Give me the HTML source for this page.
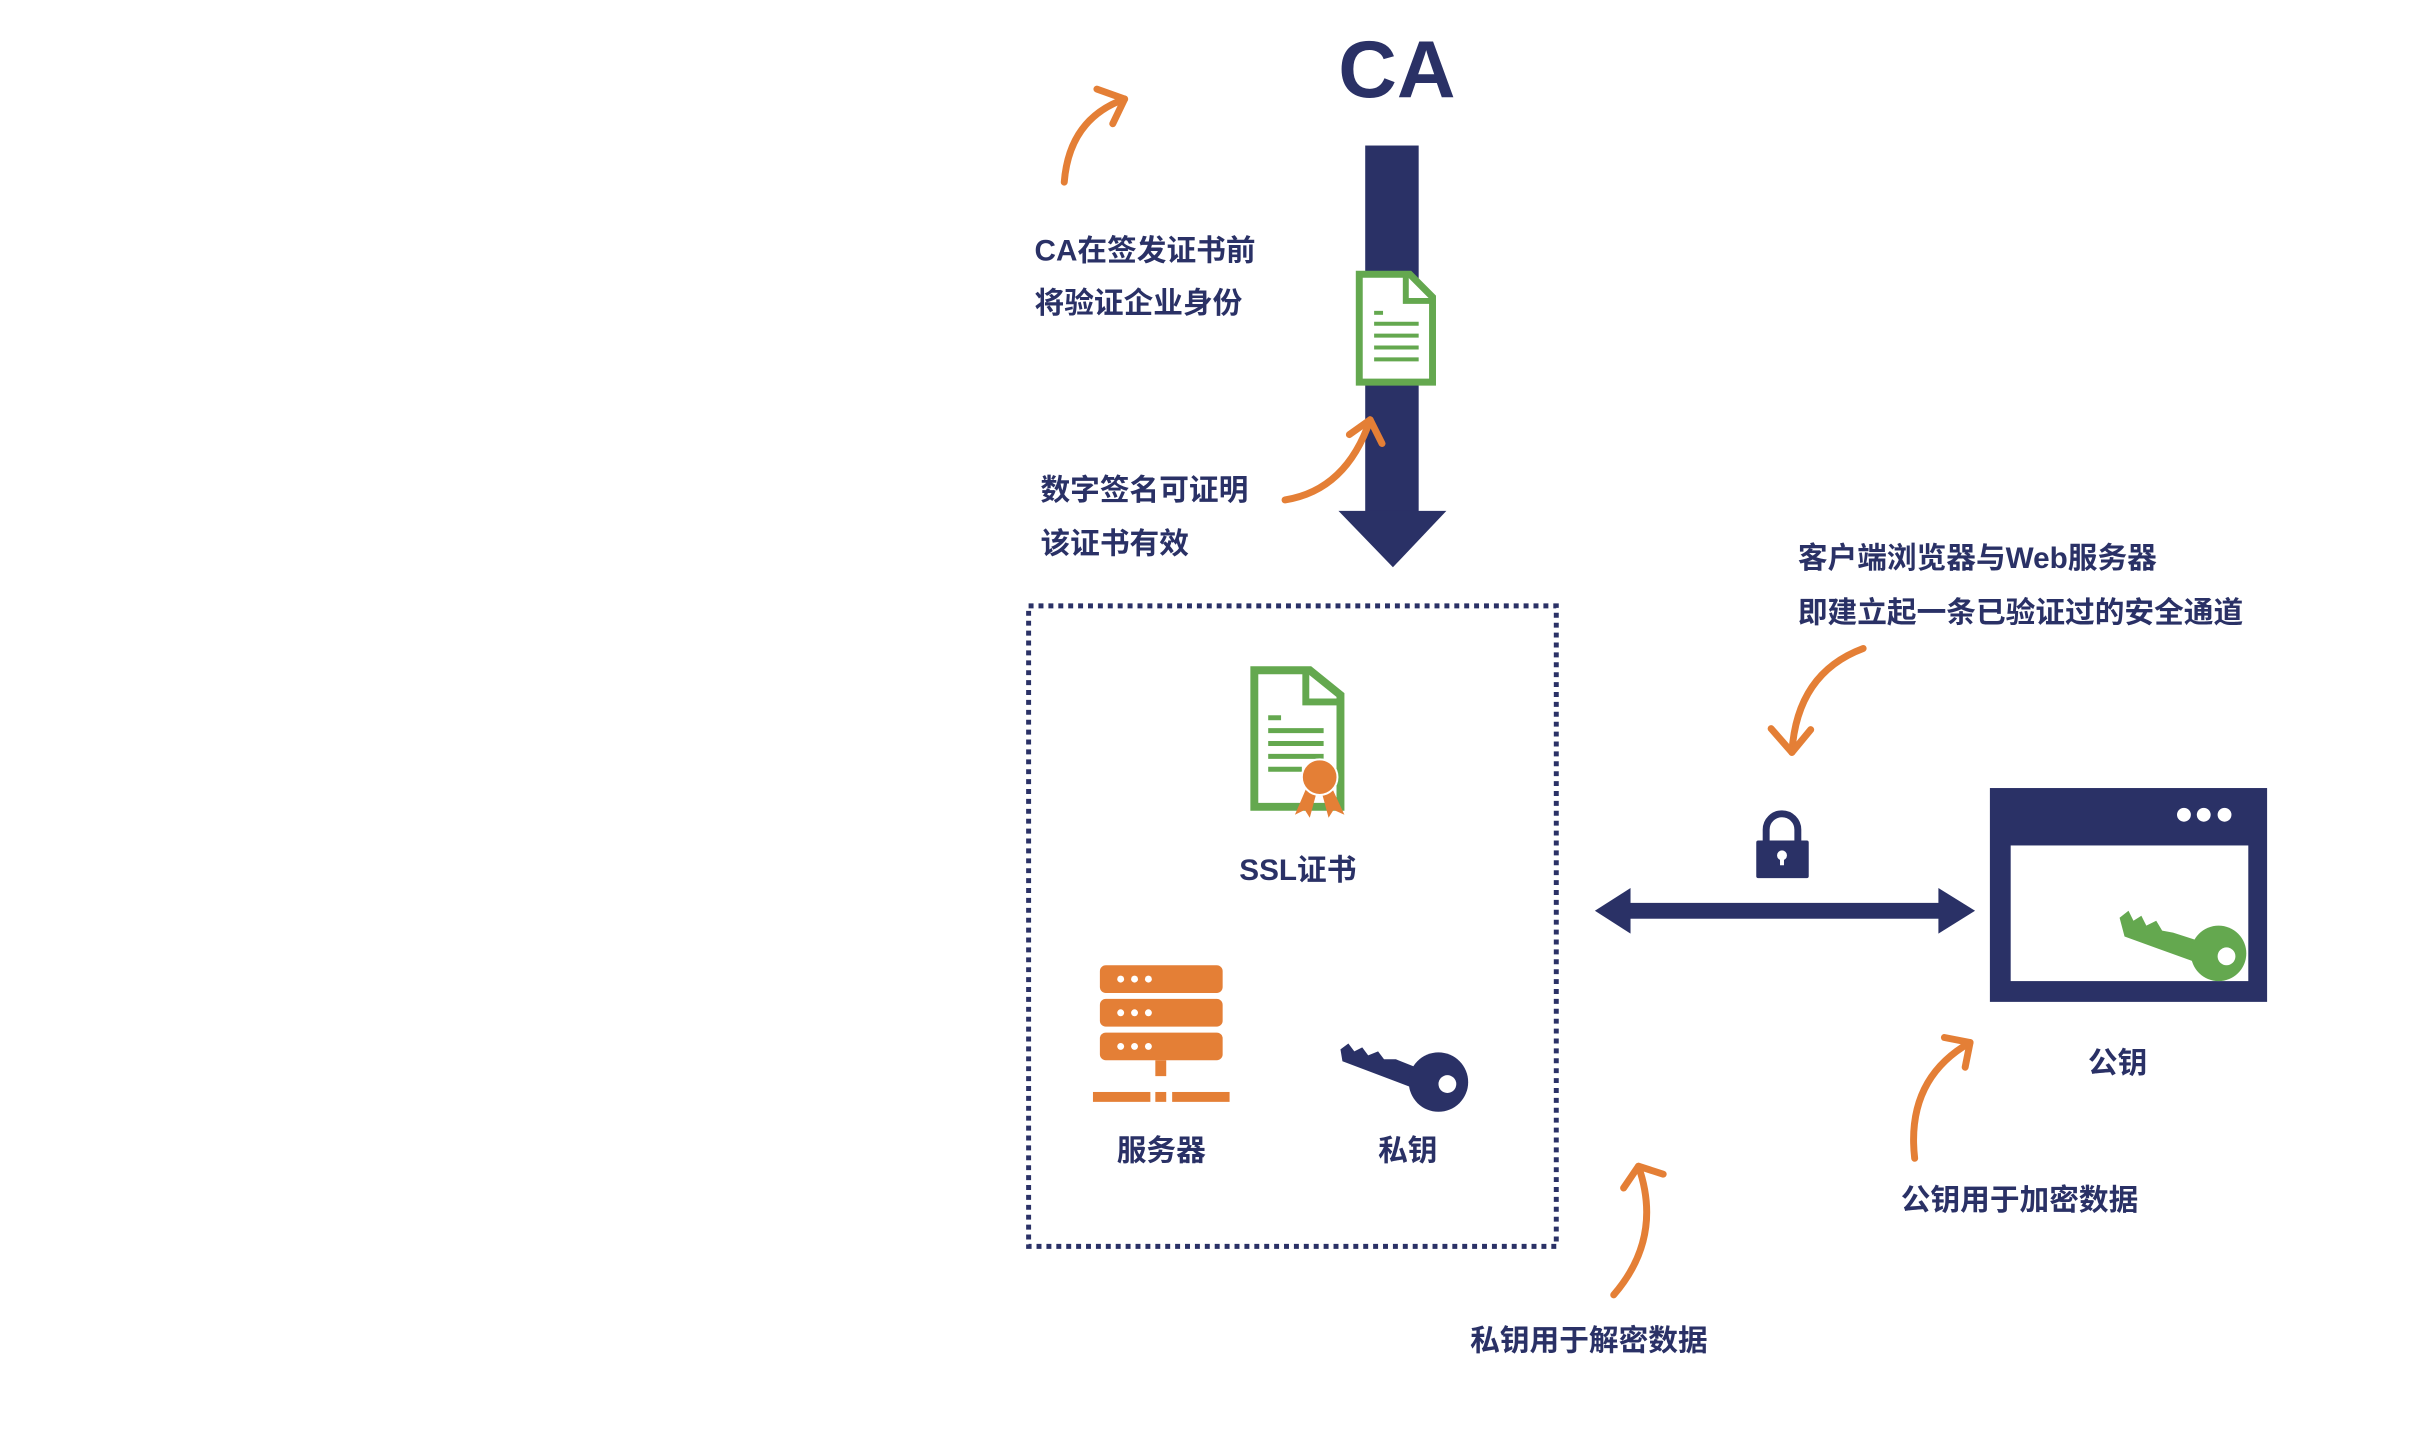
<!DOCTYPE html>
<html><head><meta charset="utf-8"><style>
html,body{margin:0;padding:0;background:#fff;}
svg{display:block;}
text{font-family:"Liberation Sans","Noto Sans CJK SC",sans-serif;font-weight:bold;fill:#2a3166;}
</style></head><body>
<svg width="2428" height="1432" viewBox="0 0 2428 1432" xmlns="http://www.w3.org/2000/svg">
<g transform="scale(0.99)">
<!-- CA -->
<text x="1411" y="98" font-size="82" text-anchor="middle">CA</text>
<!-- vertical arrow -->
<rect x="1379" y="147" width="54" height="370" fill="#2a3166"/>
<polygon points="1352,516 1461,516 1407,573" fill="#2a3166"/>
<!-- doc on shaft -->
<path d="M1373 277 H1424 L1447 300 V386 H1373 Z" fill="#fff" stroke="#64a84f" stroke-width="7"/>
<path d="M1420 277 V304 H1447" fill="none" stroke="#64a84f" stroke-width="6"/>
<g stroke="#64a84f" stroke-width="4"><line x1="1388" y1="316" x2="1397" y2="316"/><line x1="1388" y1="327" x2="1433" y2="327"/><line x1="1388" y1="339" x2="1433" y2="339"/><line x1="1388" y1="351" x2="1433" y2="351"/><line x1="1388" y1="363" x2="1433" y2="363"/></g>
<!-- orange arrows -->
<g fill="none" stroke="#e47f36" stroke-width="7" stroke-linecap="round" stroke-linejoin="round">
<path d="M1075 184 Q1080 120 1136 100"/><path d="M1108 90 L1136 100 L1124 125"/>
<path d="M1298 505 Q1360 495 1384 424"/><path d="M1363 439 L1384 424 L1396 448"/>
<path d="M1882 655 Q1815 680 1810 760"/><path d="M1789 736 L1810 760 L1829 737"/>
<path d="M1934 1170 Q1925 1090 1990 1053"/><path d="M1964 1048 L1990 1053 L1985 1078"/>
<path d="M1630 1308 Q1680 1250 1655 1178"/><path d="M1640 1200 L1655 1178 L1680 1186"/>
</g>
<!-- labels -->
<g font-size="30">
<text x="1045" y="263">CA在签发证书前</text>
<text x="1045" y="316">将验证企业身份</text>
<text x="1051" y="505">数字签名可证明</text>
<text x="1051" y="559">该证书有效</text>
<text x="1816" y="574">客户端浏览器与Web服务器</text>
<text x="1816" y="629">即建立起一条已验证过的安全通道</text>
<text x="1311" y="889" text-anchor="middle">SSL证书</text>
<text x="1173" y="1172" text-anchor="middle">服务器</text>
<text x="1422" y="1172" text-anchor="middle">私钥</text>
<text x="2139" y="1084" text-anchor="middle">公钥</text>
<text x="1920" y="1222">公钥用于加密数据</text>
<text x="1485" y="1364">私钥用于解密数据</text>
</g>
<!-- dotted box -->
<rect x="1039" y="612" width="533" height="647" fill="none" stroke="#2a3166" stroke-width="5" stroke-dasharray="5 5"/>
<!-- SSL cert -->
<path d="M1267 677 H1323 L1354 702 V815 H1267 Z" fill="#fff" stroke="#64a84f" stroke-width="8"/>
<path d="M1319 677 V709 H1354" fill="none" stroke="#64a84f" stroke-width="7"/>
<g stroke="#64a84f" stroke-width="5"><line x1="1281" y1="725" x2="1294" y2="725"/><line x1="1281" y1="738" x2="1337" y2="738"/><line x1="1281" y1="751" x2="1337" y2="751"/><line x1="1281" y1="764" x2="1337" y2="764"/><line x1="1281" y1="777" x2="1315" y2="777"/></g>
<polygon points="1320,795 1308,823 1318,818 1323,826 1330,800" fill="#e47f36"/>
<polygon points="1345,795 1358,823 1347,818 1342,826 1335,800" fill="#e47f36"/>
<circle cx="1333" cy="785" r="18" fill="#e47f36" stroke="#fff" stroke-width="2"/>
<!-- server -->
<g fill="#e47f36">
<rect x="1111" y="975" width="124" height="28" rx="6"/>
<rect x="1111" y="1009" width="124" height="28" rx="6"/>
<rect x="1111" y="1043" width="124" height="28" rx="6"/>
<rect x="1167" y="1071" width="11" height="16"/>
<rect x="1104" y="1103" width="58" height="10"/>
<rect x="1167" y="1103" width="11" height="10"/>
<rect x="1184" y="1103" width="58" height="10"/>
</g>
<g fill="#fff"><circle cx="1132" cy="989" r="3.5"/><circle cx="1146" cy="989" r="3.5"/><circle cx="1160" cy="989" r="3.5"/>
<circle cx="1132" cy="1023" r="3.5"/><circle cx="1146" cy="1023" r="3.5"/><circle cx="1160" cy="1023" r="3.5"/>
<circle cx="1132" cy="1057" r="3.5"/><circle cx="1146" cy="1057" r="3.5"/><circle cx="1160" cy="1057" r="3.5"/></g>
<!-- private key -->
<g fill="#2a3166">
<polygon points="1354,1060 1362,1054 1368,1062 1376,1058 1382,1066 1392,1062 1398,1070 1410,1070 1440,1082 1430,1100 1356,1072"/>
<circle cx="1453" cy="1093" r="30"/>
</g>
<circle cx="1462" cy="1095" r="9" fill="#fff"/>
<!-- double arrow -->
<rect x="1640" y="912" width="326" height="16" fill="#2a3166"/>
<polygon points="1611,920 1647,897 1647,943" fill="#2a3166"/>
<polygon points="1995,920 1958,897 1958,943" fill="#2a3166"/>
<!-- lock -->
<path d="M1784 850 V838 A16 16 0 0 1 1816 838 V850" fill="none" stroke="#2a3166" stroke-width="7"/>
<rect x="1774" y="849" width="53" height="38" rx="2" fill="#2a3166"/>
<circle cx="1800" cy="864" r="5" fill="#fff"/><rect x="1798" y="864" width="4" height="10" fill="#fff"/>
<!-- browser -->
<rect x="2010" y="796" width="280" height="216" fill="#2a3166"/>
<rect x="2031" y="854" width="240" height="137" fill="#fff"/>
<g fill="#fff"><circle cx="2206" cy="823" r="7"/><circle cx="2226" cy="823" r="7"/><circle cx="2247" cy="823" r="7"/></g>
<g fill="#64a84f">
<polygon points="2141,927 2150,920 2155,930 2163,925 2168,935 2178,930 2184,940 2195,942 2226,952 2218,972 2146,946"/>
<circle cx="2241" cy="963" r="28"/>
</g>
<circle cx="2249" cy="966" r="9" fill="#fff"/>
</g>
</svg>
</body></html>
